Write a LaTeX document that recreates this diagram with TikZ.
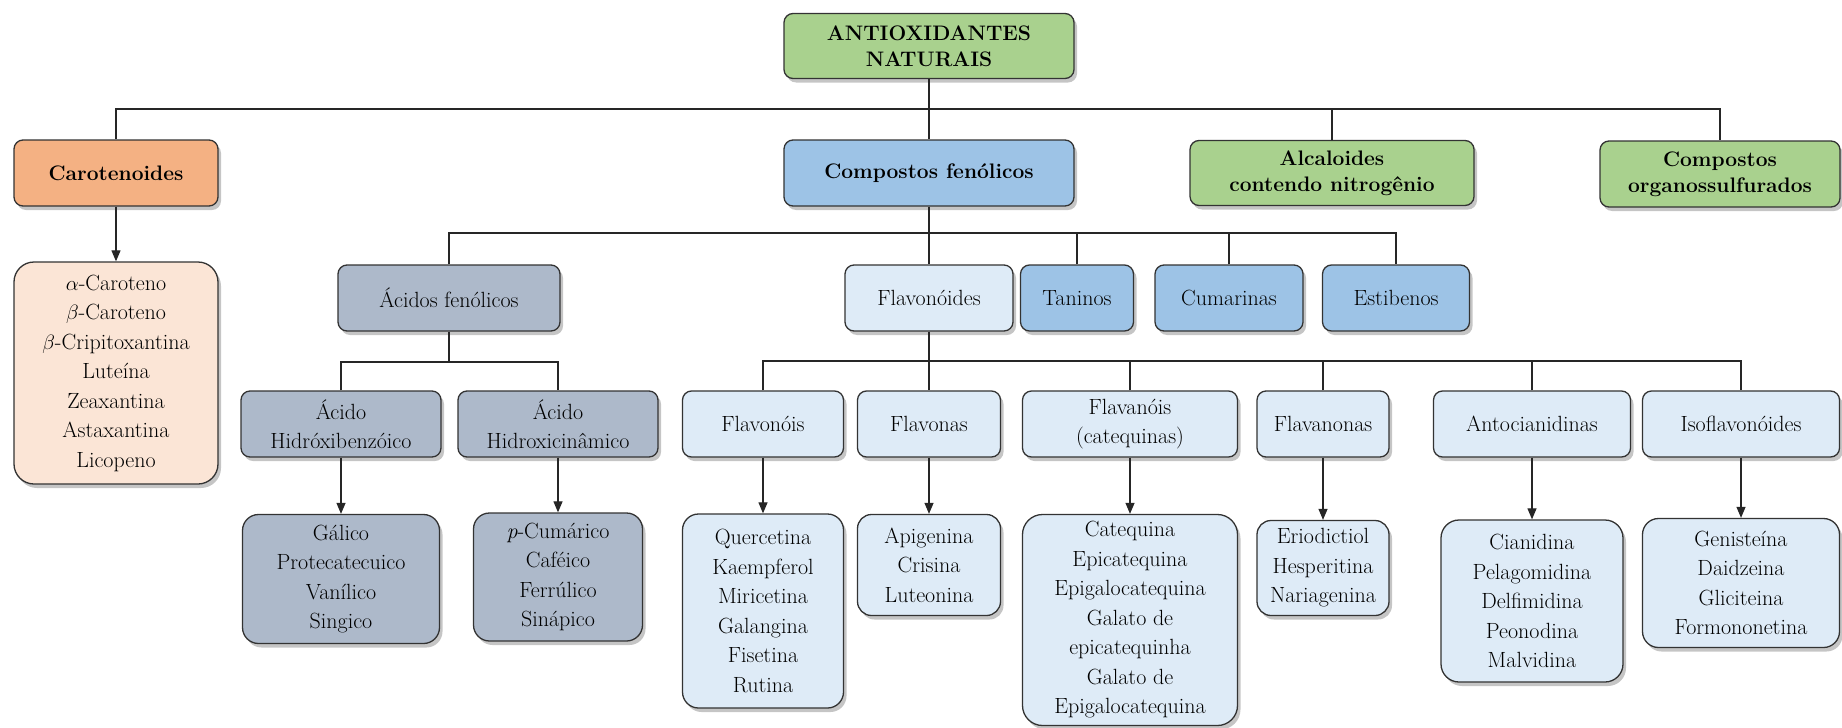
\documentclass[tikz,border=0pt]{standalone}
\usepackage{fontspec}
\usetikzlibrary{arrows.meta, shadows}
\usepackage{xcolor}
\definecolor{verde}{HTML}{A9D18E}
\definecolor{laranja}{HTML}{F4B183}
\definecolor{pessego}{HTML}{FBE5D6}
\definecolor{azul}{HTML}{9DC3E6}
\definecolor{cinza}{HTML}{ADB9CA}
\definecolor{azulclaro}{HTML}{DEEBF7}

\begin{document}
\begin{tikzpicture}[x=1pt, y=-1pt, >={Triangle[length=11pt,width=9pt]},
  every node/.style={font=\fontsize{22}{29.5}\selectfont, align=center, inner sep=2pt},
  catbox/.style={draw=black!80, line width=1.3pt, rounded corners=9pt,
    drop shadow={shadow xshift=3pt, shadow yshift=-4pt, fill=black!45, opacity=0.5}},
  listbox/.style={catbox, rounded corners=20pt},
  tlabel/.style={font=\fontsize{21}{26}\selectfont\bfseries},
  wh/.style 2 args={minimum width=#1pt, minimum height=#2pt},
  link/.style={draw=black!85, line width=1.2pt}]
  \useasboundingbox (0,0) rectangle (1842,728);

  % top level
  \node[catbox, fill=verde, tlabel, wh={290}{65}] (root) at (929,46) {ANTIOXIDANTES\\NATURAIS};
  \node[catbox, fill=laranja, tlabel, wh={204}{66}] (caro) at (116,173) {Carotenoides};
  \node[catbox, fill=azul, tlabel, wh={290}{66}] (fen) at (929,173) {Compostos fenólicos};
  \node[catbox, fill=verde, tlabel, wh={284}{65}] (alca) at (1332,173) {Alcaloides\\contendo nitrogênio};
  \node[catbox, fill=verde, tlabel, wh={240}{66}] (orga) at (1720,174) {Compostos\\organossulfurados};

  % carotenoides
  \node[listbox, fill=pessego, wh={204}{222}] (carolist) at (116,373)
    {$\alpha$-Caroteno\\$\beta$-Caroteno\\$\beta$-Cripitoxantina\\Luteína\\Zeaxantina\\Astaxantina\\Licopeno};

  % compostos fenolicos
  \node[catbox, fill=cinza, wh={222}{66}] (acid) at (449,298) {Ácidos fenólicos};
  \node[catbox, fill=azulclaro, wh={168}{66}] (flav) at (929,298) {Flavonóides};
  \node[catbox, fill=azul, wh={113}{66}] (tani) at (1077,298) {Taninos};
  \node[catbox, fill=azul, wh={148}{66}] (cuma) at (1229,298) {Cumarinas};
  \node[catbox, fill=azul, wh={147}{66}] (esti) at (1396,298) {Estibenos};

  % acidos fenolicos
  \node[catbox, fill=cinza, wh={200}{66}] (hbenz) at (341,424) {Ácido\\Hidróxibenzóico};
  \node[catbox, fill=cinza, wh={200}{66}] (hcin) at (558,424) {Ácido\\Hidroxicinâmico};
  \node[listbox, rounded corners=16pt, fill=cinza, wh={197}{129}] (hbenzlist) at (341,579)
    {Gálico\\Protecatecuico\\Vanílico\\Singico};
  \node[listbox, rounded corners=16pt, fill=cinza, wh={169}{128}] (hcinlist) at (558,577)
    {\textit{p}-Cumárico\\Caféico\\Ferrúlico\\Sinápico};

  % flavonoides
  \node[catbox, fill=azulclaro, wh={161}{66}] (flavonois) at (763,424) {Flavonóis};
  \node[catbox, fill=azulclaro, wh={143}{66}] (flavonas) at (929,424) {Flavonas};
  \node[catbox, fill=azulclaro, wh={215}{66}] (flavanois) at (1130,424) {Flavanóis\\(catequinas)};
  \node[catbox, fill=azulclaro, wh={132}{66}] (flavanonas) at (1323,424) {Flavanonas};
  \node[catbox, fill=azulclaro, wh={197}{66}] (antoc) at (1532,424) {Antocianidinas};
  \node[catbox, fill=azulclaro, wh={197}{66}] (isofl) at (1741,424) {Isoflavonóides};

  \node[listbox, rounded corners=16pt, fill=azulclaro, wh={161}{194}] (flavonoislist) at (763,611)
    {Quercetina\\Kaempferol\\Miricetina\\Galangina\\Fisetina\\Rutina};
  \node[listbox, rounded corners=14pt, fill=azulclaro, wh={143}{101}] (flavonaslist) at (929,565)
    {Apigenina\\Crisina\\Luteonina};
  \node[listbox, rounded corners=20pt, fill=azulclaro, wh={215}{211}] (flavanoislist) at (1130,620)
    {Catequina\\Epicatequina\\Epigalocatequina\\Galato de\\epicatequinha\\Galato de\\Epigalocatequina};
  \node[listbox, rounded corners=14pt, fill=azulclaro, wh={132}{95}] (flavanonaslist) at (1323,568)
    {Eriodictiol\\Hesperitina\\Nariagenina};
  \node[listbox, rounded corners=18pt, fill=azulclaro, wh={182}{162}] (antoclist) at (1532,601)
    {Cianidina\\Pelagomidina\\Delfimidina\\Peonodina\\Malvidina};
  \node[listbox, rounded corners=16pt, fill=azulclaro, wh={197}{129}] (isofllist) at (1741,583)
    {Genisteína\\Daidzeina\\Gliciteina\\Formononetina};

  % tree lines
  \coordinate (b1) at (929,109);
  \coordinate (b2) at (929,233);
  \coordinate (b3) at (449,362);
  \coordinate (b4) at (929,361);
  \draw[link] (root.south) -- (fen.north);
  \draw[link] (caro.north) |- (b1) -| (orga.north);
  \draw[link] (alca.north) -- (alca.north |- b1);
  \draw[link] (fen.south) -- (flav.north);
  \draw[link] (acid.north) |- (b2) -| (esti.north);
  \draw[link] (tani.north) -- (tani.north |- b2);
  \draw[link] (cuma.north) -- (cuma.north |- b2);
  \draw[link] (acid.south) -- (b3);
  \draw[link] (hbenz.north) |- (b3) -| (hcin.north);
  \draw[link] (flav.south) -- (flavonas.north);
  \draw[link] (flavonois.north) |- (b4) -| (isofl.north);
  \draw[link] (flavanois.north) -- (flavanois.north |- b4);
  \draw[link] (flavanonas.north) -- (flavanonas.north |- b4);
  \draw[link] (antoc.north) -- (antoc.north |- b4);

  % arrows to the lists
  \draw[link, ->] (caro.south) -- (carolist.north);
  \draw[link, ->] (hbenz.south) -- (hbenzlist.north);
  \draw[link, ->] (hcin.south) -- (hcinlist.north);
  \draw[link, ->] (flavonois.south) -- (flavonoislist.north);
  \draw[link, ->] (flavonas.south) -- (flavonaslist.north);
  \draw[link, ->] (flavanois.south) -- (flavanoislist.north);
  \draw[link, ->] (flavanonas.south) -- (flavanonaslist.north);
  \draw[link, ->] (antoc.south) -- (antoclist.north);
  \draw[link, ->] (isofl.south) -- (isofllist.north);
\end{tikzpicture}
\end{document}
